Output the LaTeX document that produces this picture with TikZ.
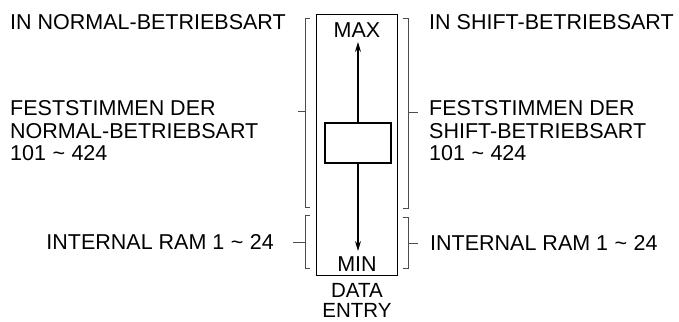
\documentclass[tikz,border=0pt]{standalone}
\usepackage{fontspec}
\setmainfont{Liberation Sans}
\usetikzlibrary{arrows.meta}
\newcommand\tld{\hspace{0.3em}\textasciitilde\hspace{0.3em}}
\begin{document}
\begin{tikzpicture}[x=1pt,y=-1pt,
  lbl/.style={font=\fontsize{21.5}{22.5}\selectfont, inner sep=0pt},
  frame/.style={draw, line width=1.2pt, inner sep=0pt},
  brk/.style={line width=0.7pt, black!70},
  tick/.style={line width=0.7pt, black!70},
  arr/.style={line width=1.1pt, -{Stealth[length=10pt,width=6pt]}}]
\useasboundingbox (0,0) rectangle (679,321);
% fader frame and knob
\node[frame, minimum width=81pt, minimum height=261pt] (box) at (357,145) {};
\node[frame, minimum width=66pt, minimum height=40pt] (slider) at (358,143) {};
\node[lbl, anchor=base] (max) at (357,37.5) {MAX};
\node[lbl, anchor=base] (min) at (357,271) {MIN};
\node[lbl, font=\fontsize{20.5}{20}\selectfont, anchor=base, align=center] (data) at (357,317) {DATA\\ENTRY};
\coordinate (maxtip) at (358,42);
\coordinate (mintip) at (358,251);
\draw[arr] (slider.north) -- (maxtip);
\draw[arr] (slider.south) -- (mintip);
% left texts
\node[lbl, anchor=base west] (tl) at (10,29.5) {IN NORMAL-BETRIEBSART};
\node[lbl, anchor=base west, align=left] (ml) at (10,160.5) {FESTSTIMMEN DER\\NORMAL-BETRIEBSART\\101\tld424};
\node[lbl, anchor=base east] (bl) at (274,249.7) {INTERNAL RAM 1\tld24};
% right texts
\node[lbl, anchor=base west] (tr) at (429,29.5) {IN SHIFT-BETRIEBSART};
\node[lbl, anchor=base west, align=left] (mr) at (429,160.5) {FESTSTIMMEN DER\\SHIFT-BETRIEBSART\\101\tld424};
\node[lbl, anchor=base west] (br) at (430,250.5) {INTERNAL RAM 1\tld24};
% left brackets
\coordinate (lua) at (310,18); \coordinate (lub) at (310,207);
\coordinate (lla) at (310,215); \coordinate (llb) at (310,268);
\draw[brk] (lua) -- ++(-5,0) |- (lub);
\draw[brk] (lla) -- ++(-5,0) |- (llb);
\coordinate (ltm) at (305,111); \coordinate (ltb) at (305,242);
\draw[tick] (ltm) -- ++(-7,0);
\draw[tick] (ltb) -- ++(-12,0);
% right brackets
\coordinate (rua) at (403,18); \coordinate (rub) at (403,208);
\coordinate (rla) at (403,217); \coordinate (rlb) at (403,268);
\draw[brk] (rua) -- ++(5,0) |- (rub);
\draw[brk] (rla) -- ++(5,0) |- (rlb);
\coordinate (rtm) at (408,112); \coordinate (rtb) at (408,243);
\draw[tick] (rtm) -- ++(10,0);
\draw[tick] (rtb) -- ++(10,0);
\end{tikzpicture}
\end{document}
